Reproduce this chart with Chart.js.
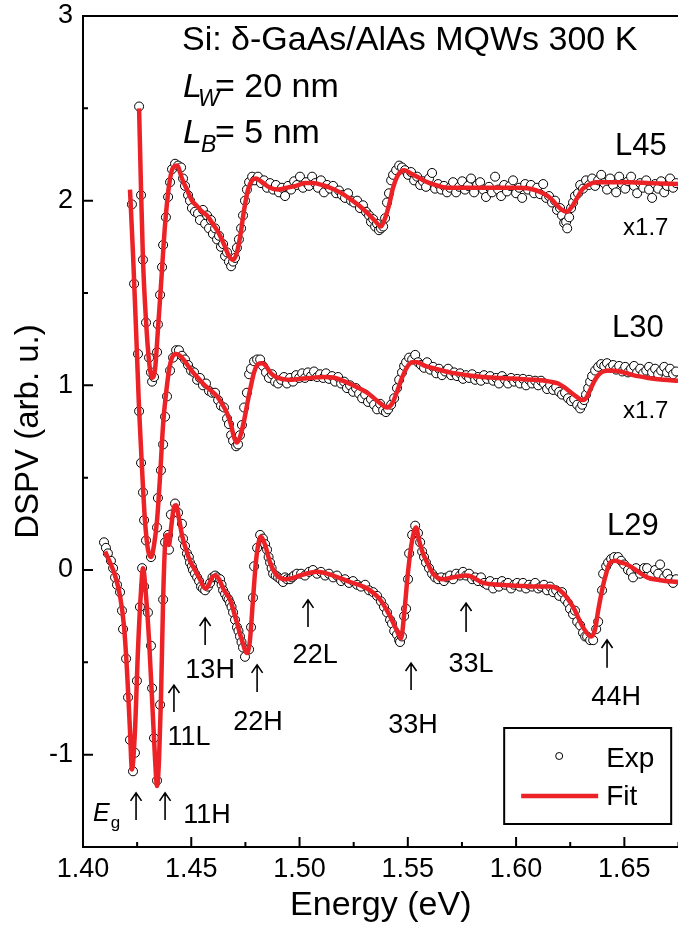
<!DOCTYPE html>
<html>
<head>
<meta charset="utf-8">
<script src="https://cdn.jsdelivr.net/npm/chart.js@4.4.1/dist/chart.umd.min.js"></script>
<style>
html, body { margin: 0; padding: 0; background: #fff; overflow: hidden; width: 678px; height: 933px; }
</style>
</head>
<body>
<!-- a few px wider than the window: the plot runs off the right edge like the original figure -->
<canvas id="myChart" width="684" height="933"></canvas>
<script>
// axis ticks
const xTicks = [1.40, 1.45, 1.50, 1.55, 1.60, 1.65];
const xMinor = [1.425, 1.475, 1.525, 1.575, 1.625, 1.675];
const yTicks = [-1, 0, 1, 2, 3];
const yMinor = [-0.5, 0.5, 1.5, 2.5];

// L29 (bottom), [energy eV, DSPV]
const l29Fit = [[1.4102,0.10],[1.4125,0.04],[1.4148,-0.03],[1.4171,-0.14],[1.4189,-0.30],[1.4203,-0.54],[1.4217,-0.87],[1.4226,-1.08],[1.4240,-0.87],[1.4254,-0.43],[1.4268,-0.11],[1.4277,0.01],[1.4291,-0.14],[1.4305,-0.38],[1.4319,-0.70],[1.4333,-1.03],[1.4342,-1.17],[1.4351,-1.03],[1.4360,-0.70],[1.4370,-0.16],[1.4379,0.135],[1.4388,0.19],[1.4397,0.135],[1.4406,0.22],[1.4420,0.34],[1.4430,0.35],[1.4443,0.28],[1.4457,0.19],[1.4476,0.11],[1.4494,0.05],[1.4517,0.0],[1.4540,-0.05],[1.4564,-0.10],[1.4577,-0.09],[1.4596,-0.04],[1.4610,-0.03],[1.4628,-0.05],[1.4651,-0.11],[1.4679,-0.16],[1.4707,-0.27],[1.4734,-0.38],[1.4757,-0.45],[1.4771,-0.38],[1.4785,-0.16],[1.4799,0.05],[1.4813,0.16],[1.4822,0.18],[1.4841,0.135],[1.4864,0.04],[1.4896,-0.03],[1.4933,-0.05],[1.4965,-0.045],[1.5002,-0.03],[1.5081,-0.01],[1.5155,-0.03],[1.5233,-0.065],[1.5312,-0.10],[1.5372,-0.16],[1.5418,-0.25],[1.5446,-0.32],[1.5469,-0.37],[1.5483,-0.24],[1.5501,-0.01],[1.5520,0.16],[1.5538,0.23],[1.5552,0.16],[1.5570,0.09],[1.5594,0.03],[1.5617,-0.02],[1.5663,-0.05],[1.5709,-0.04],[1.5774,-0.03],[1.5848,-0.07],[1.5926,-0.08],[1.6005,-0.085],[1.6088,-0.09],[1.6157,-0.09],[1.6217,-0.125],[1.6263,-0.20],[1.6309,-0.31],[1.6346,-0.36],[1.6365,-0.32],[1.6379,-0.22],[1.6397,-0.11],[1.6411,-0.04],[1.6434,0.04],[1.6457,0.05],[1.6485,0.04],[1.6513,0.03],[1.6559,-0.005],[1.6605,-0.04],[1.6665,-0.055],[1.6748,-0.065]];
const l29Exp = [[1.4097,0.15],[1.4106,0.12],[1.4115,0.09],[1.4129,0.05],[1.4139,0.01],[1.4148,-0.04],[1.4157,-0.08],[1.4171,-0.12],[1.4180,-0.22],[1.4185,-0.32],[1.4199,-0.48],[1.4208,-0.69],[1.4217,-0.92],[1.4231,-1.09],[1.4240,-0.99],[1.4249,-0.60],[1.4263,-0.20],[1.4273,0.01],[1.4282,-0.09],[1.4300,-0.23],[1.4314,-0.41],[1.4319,-0.64],[1.4328,-0.91],[1.4342,-1.14],[1.4356,-0.73],[1.4370,-0.16],[1.4379,0.15],[1.4393,0.19],[1.4397,0.11],[1.4406,0.30],[1.4425,0.36],[1.4439,0.31],[1.4457,0.25],[1.4462,0.17],[1.4471,0.13],[1.4480,0.09],[1.4489,0.07],[1.4494,0.04],[1.4503,0.02],[1.4508,0.0],[1.4517,-0.02],[1.4527,-0.04],[1.4536,-0.06],[1.4545,-0.09],[1.4554,-0.10],[1.4564,-0.11],[1.4577,-0.09],[1.4587,-0.07],[1.4598,-0.04],[1.4610,-0.03],[1.4620,-0.04],[1.4633,-0.05],[1.4640,-0.08],[1.4647,-0.11],[1.4656,-0.13],[1.4665,-0.15],[1.4672,-0.16],[1.4679,-0.18],[1.4686,-0.20],[1.4693,-0.23],[1.4702,-0.27],[1.4711,-0.31],[1.4718,-0.33],[1.4725,-0.36],[1.4732,-0.39],[1.4739,-0.42],[1.4748,-0.47],[1.4767,-0.43],[1.4776,-0.31],[1.4785,-0.15],[1.4790,0.02],[1.4804,0.12],[1.4818,0.19],[1.4831,0.17],[1.4841,0.14],[1.4850,0.11],[1.4857,0.07],[1.4864,0.04],[1.4871,0.01],[1.4878,-0.02],[1.4890,-0.03],[1.4901,-0.04],[1.4912,-0.05],[1.4924,-0.065],[1.4933,-0.04],[1.4942,-0.05],[1.4956,-0.05],[1.4965,-0.04],[1.4975,-0.03],[1.4988,-0.02],[1.5007,-0.02],[1.5025,-0.03],[1.5044,-0.01],[1.5062,0.0],[1.5081,-0.02],[1.5099,-0.01],[1.5118,-0.03],[1.5136,-0.02],[1.5155,-0.04],[1.5173,-0.03],[1.5192,-0.06],[1.5210,-0.05],[1.5229,-0.07],[1.5247,-0.06],[1.5266,-0.08],[1.5284,-0.09],[1.5303,-0.08],[1.5321,-0.11],[1.5340,-0.12],[1.5358,-0.14],[1.5376,-0.17],[1.5390,-0.20],[1.5404,-0.23],[1.5418,-0.27],[1.5427,-0.29],[1.5437,-0.33],[1.5450,-0.35],[1.5460,-0.38],[1.5464,-0.39],[1.5473,-0.36],[1.5483,-0.25],[1.5492,-0.21],[1.5501,-0.05],[1.5506,0.09],[1.5520,0.19],[1.5534,0.24],[1.5547,0.20],[1.5557,0.15],[1.5566,0.10],[1.5575,0.07],[1.5584,0.04],[1.5598,0.01],[1.5612,-0.02],[1.5626,-0.04],[1.5640,-0.05],[1.5654,-0.04],[1.5667,-0.06],[1.5681,-0.04],[1.5695,-0.03],[1.5709,-0.05],[1.5723,-0.02],[1.5741,-0.03],[1.5755,-0.01],[1.5769,-0.03],[1.5783,-0.02],[1.5797,-0.05],[1.5811,-0.04],[1.5824,-0.06],[1.5838,-0.04],[1.5852,-0.07],[1.5866,-0.08],[1.5880,-0.06],[1.5894,-0.10],[1.5908,-0.07],[1.5921,-0.09],[1.5935,-0.06],[1.5949,-0.08],[1.5963,-0.07],[1.5977,-0.10],[1.5991,-0.08],[1.6005,-0.07],[1.6018,-0.09],[1.6032,-0.07],[1.6046,-0.10],[1.6060,-0.08],[1.6074,-0.09],[1.6088,-0.07],[1.6102,-0.10],[1.6115,-0.09],[1.6129,-0.08],[1.6143,-0.11],[1.6157,-0.09],[1.6171,-0.12],[1.6185,-0.11],[1.6199,-0.14],[1.6212,-0.12],[1.6226,-0.16],[1.6240,-0.18],[1.6249,-0.21],[1.6263,-0.24],[1.6272,-0.22],[1.6282,-0.28],[1.6296,-0.30],[1.6309,-0.34],[1.6319,-0.36],[1.6328,-0.36],[1.6342,-0.38],[1.6356,-0.38],[1.6370,-0.32],[1.6379,-0.28],[1.6397,-0.11],[1.6402,-0.02],[1.6416,0.02],[1.6425,0.04],[1.6439,0.06],[1.6453,0.07],[1.6471,0.07],[1.6485,0.05],[1.6499,0.03],[1.6517,0.0],[1.6531,-0.01],[1.6540,-0.04],[1.6554,0.01],[1.6573,-0.02],[1.6591,0.01],[1.6605,0.01],[1.6624,-0.03],[1.6642,0.0],[1.6656,-0.02],[1.6665,0.03],[1.6684,-0.04],[1.6698,-0.02],[1.6711,-0.05],[1.6725,-0.07],[1.6739,-0.05]];

// L30 (middle, x1.7)
const l30Fit = [[1.4217,2.06],[1.4231,1.71],[1.4245,1.30],[1.4259,0.87],[1.4273,0.54],[1.4286,0.27],[1.4300,0.11],[1.4314,0.07],[1.4328,0.135],[1.4342,0.27],[1.4356,0.51],[1.4370,0.79],[1.4383,0.95],[1.4397,1.08],[1.4411,1.15],[1.4430,1.17],[1.4448,1.16],[1.4471,1.13],[1.4494,1.09],[1.4527,1.045],[1.4554,1.01],[1.4587,0.975],[1.4619,0.94],[1.4642,0.90],[1.4665,0.85],[1.4684,0.785],[1.4697,0.72],[1.4711,0.69],[1.4725,0.72],[1.4744,0.81],[1.4762,0.92],[1.4776,1.00],[1.4790,1.07],[1.4808,1.115],[1.4827,1.12],[1.4845,1.105],[1.4864,1.07],[1.4891,1.045],[1.4919,1.035],[1.4956,1.03],[1.5002,1.035],[1.5048,1.04],[1.5109,1.045],[1.5164,1.04],[1.5210,1.02],[1.5266,0.99],[1.5312,0.96],[1.5349,0.925],[1.5381,0.895],[1.5404,0.88],[1.5427,0.90],[1.5450,0.965],[1.5473,1.04],[1.5497,1.10],[1.5520,1.125],[1.5543,1.125],[1.5580,1.105],[1.5626,1.09],[1.5695,1.07],[1.5774,1.055],[1.5848,1.045],[1.5926,1.04],[1.6005,1.035],[1.6088,1.03],[1.6157,1.02],[1.6194,1.01],[1.6222,0.99],[1.6249,0.965],[1.6277,0.94],[1.6305,0.92],[1.6323,0.93],[1.6342,0.975],[1.6360,1.02],[1.6379,1.055],[1.6402,1.075],[1.6434,1.08],[1.6480,1.075],[1.6540,1.055],[1.6610,1.04],[1.6679,1.03],[1.6748,1.025]];
const l30Exp = [[1.4226,1.98],[1.4236,1.55],[1.4254,1.17],[1.4259,0.86],[1.4268,0.58],[1.4277,0.42],[1.4282,0.27],[1.4291,0.16],[1.4314,0.07],[1.4342,0.23],[1.4346,0.39],[1.4360,0.54],[1.4370,0.68],[1.4379,0.83],[1.4388,0.94],[1.4402,1.08],[1.4416,1.15],[1.4430,1.19],[1.4443,1.19],[1.4457,1.16],[1.4471,1.14],[1.4485,1.11],[1.4499,1.08],[1.4513,1.07],[1.4527,1.03],[1.4540,1.04],[1.4554,1.00],[1.4568,1.01],[1.4582,0.97],[1.4596,0.96],[1.4610,0.96],[1.4624,0.92],[1.4637,0.89],[1.4651,0.88],[1.4665,0.82],[1.4674,0.79],[1.4684,0.73],[1.4693,0.70],[1.4707,0.67],[1.4716,0.68],[1.4725,0.73],[1.4734,0.785],[1.4744,0.88],[1.4757,0.96],[1.4767,1.06],[1.4776,1.09],[1.4790,1.13],[1.4804,1.14],[1.4818,1.14],[1.4831,1.105],[1.4845,1.07],[1.4859,1.04],[1.4873,1.06],[1.4887,1.02],[1.4901,1.01],[1.4915,1.03],[1.4928,1.045],[1.4942,1.01],[1.4956,1.04],[1.4970,1.02],[1.4984,1.055],[1.4998,1.04],[1.5012,1.065],[1.5025,1.04],[1.5039,1.07],[1.5053,1.05],[1.5067,1.075],[1.5081,1.045],[1.5095,1.06],[1.5109,1.04],[1.5122,1.065],[1.5136,1.035],[1.5150,1.05],[1.5164,1.02],[1.5178,1.045],[1.5192,1.01],[1.5206,1.02],[1.5219,0.985],[1.5233,1.00],[1.5247,0.965],[1.5261,0.985],[1.5275,0.955],[1.5289,0.93],[1.5303,0.95],[1.5316,0.91],[1.5330,0.925],[1.5344,0.895],[1.5358,0.87],[1.5372,0.90],[1.5386,0.865],[1.5399,0.855],[1.5409,0.87],[1.5423,0.895],[1.5437,0.93],[1.5450,0.985],[1.5460,1.03],[1.5473,1.07],[1.5483,1.105],[1.5492,1.125],[1.5506,1.15],[1.5520,1.14],[1.5534,1.165],[1.5547,1.125],[1.5561,1.11],[1.5575,1.095],[1.5589,1.125],[1.5603,1.085],[1.5617,1.10],[1.5631,1.065],[1.5644,1.09],[1.5658,1.055],[1.5672,1.075],[1.5686,1.09],[1.5700,1.055],[1.5714,1.07],[1.5727,1.05],[1.5741,1.065],[1.5755,1.035],[1.5769,1.055],[1.5783,1.04],[1.5797,1.06],[1.5811,1.03],[1.5824,1.045],[1.5838,1.025],[1.5852,1.055],[1.5866,1.035],[1.5880,1.05],[1.5894,1.025],[1.5908,1.04],[1.5921,1.01],[1.5935,1.05],[1.5949,1.03],[1.5963,1.01],[1.5977,1.04],[1.5991,1.02],[1.6005,1.035],[1.6018,1.01],[1.6032,1.035],[1.6046,1.00],[1.6060,1.03],[1.6074,1.01],[1.6088,1.025],[1.6102,1.00],[1.6115,1.025],[1.6129,1.01],[1.6143,0.98],[1.6157,1.00],[1.6171,0.975],[1.6185,0.99],[1.6199,0.965],[1.6212,0.95],[1.6226,0.96],[1.6240,0.93],[1.6254,0.915],[1.6268,0.925],[1.6282,0.895],[1.6296,0.875],[1.6305,0.895],[1.6314,0.92],[1.6323,0.95],[1.6333,0.985],[1.6342,1.02],[1.6351,1.05],[1.6365,1.08],[1.6379,1.10],[1.6393,1.115],[1.6407,1.105],[1.6420,1.12],[1.6434,1.095],[1.6448,1.11],[1.6462,1.085],[1.6476,1.105],[1.6490,1.075],[1.6504,1.10],[1.6517,1.07],[1.6531,1.09],[1.6545,1.105],[1.6559,1.07],[1.6573,1.09],[1.6587,1.065],[1.6601,1.08],[1.6614,1.10],[1.6628,1.07],[1.6642,1.09],[1.6656,1.06],[1.6670,1.08],[1.6684,1.10],[1.6697,1.07],[1.6711,1.09],[1.6725,1.06],[1.6739,1.075]];

// L45 (top, x1.7)
const l45Fit = [[1.4259,2.50],[1.4268,2.06],[1.4277,1.68],[1.4291,1.35],[1.4305,1.13],[1.4319,1.04],[1.4333,1.09],[1.4346,1.30],[1.4360,1.54],[1.4379,1.87],[1.4397,2.08],[1.4416,2.18],[1.4434,2.19],[1.4457,2.12],[1.4480,2.06],[1.4503,2.00],[1.4527,1.97],[1.4550,1.94],[1.4573,1.92],[1.4596,1.88],[1.4619,1.84],[1.4637,1.80],[1.4656,1.75],[1.4674,1.70],[1.4693,1.68],[1.4707,1.705],[1.4725,1.80],[1.4744,1.95],[1.4762,2.06],[1.4781,2.11],[1.4799,2.12],[1.4827,2.10],[1.4864,2.07],[1.4901,2.06],[1.4942,2.07],[1.4984,2.08],[1.5025,2.095],[1.5062,2.095],[1.5104,2.085],[1.5141,2.07],[1.5187,2.045],[1.5233,2.01],[1.5279,1.97],[1.5316,1.93],[1.5349,1.89],[1.5376,1.86],[1.5395,1.905],[1.5413,1.975],[1.5432,2.07],[1.5455,2.14],[1.5483,2.165],[1.5510,2.15],[1.5543,2.13],[1.5580,2.105],[1.5626,2.085],[1.5681,2.07],[1.5764,2.07],[1.5880,2.07],[1.5995,2.07],[1.6065,2.065],[1.6125,2.04],[1.6162,2.01],[1.6189,1.975],[1.6212,1.95],[1.6236,1.94],[1.6259,1.97],[1.6282,2.015],[1.6305,2.06],[1.6333,2.085],[1.6370,2.10],[1.6434,2.10],[1.6527,2.10],[1.6619,2.095],[1.6748,2.09]];
const l45Exp = [[1.4259,2.51],[1.4268,2.03],[1.4277,1.68],[1.4291,1.34],[1.4305,1.15],[1.4314,1.07],[1.4319,1.02],[1.4328,1.045],[1.4342,1.18],[1.4346,1.33],[1.4356,1.49],[1.4365,1.64],[1.4370,1.76],[1.4383,1.91],[1.4393,2.02],[1.4402,2.10],[1.4411,2.17],[1.4425,2.20],[1.4439,2.19],[1.4453,2.18],[1.4462,2.12],[1.4471,2.08],[1.4485,2.03],[1.4494,2.00],[1.4503,1.96],[1.4517,1.94],[1.4531,1.93],[1.4540,1.895],[1.4554,1.95],[1.4564,1.875],[1.4573,1.92],[1.4582,1.85],[1.4591,1.895],[1.4600,1.82],[1.4610,1.85],[1.4619,1.79],[1.4628,1.81],[1.4637,1.75],[1.4647,1.765],[1.4656,1.70],[1.4665,1.72],[1.4674,1.67],[1.4684,1.645],[1.4693,1.67],[1.4702,1.69],[1.4711,1.745],[1.4720,1.79],[1.4730,1.85],[1.4739,1.92],[1.4748,2.00],[1.4757,2.06],[1.4767,2.10],[1.4781,2.13],[1.4794,2.11],[1.4808,2.13],[1.4822,2.095],[1.4836,2.11],[1.4850,2.07],[1.4864,2.095],[1.4878,2.06],[1.4891,2.085],[1.4905,2.045],[1.4919,2.07],[1.4933,2.025],[1.4947,2.08],[1.4961,2.06],[1.4975,2.105],[1.4988,2.085],[1.5002,2.13],[1.5016,2.07],[1.5030,2.10],[1.5044,2.08],[1.5058,2.13],[1.5072,2.095],[1.5085,2.07],[1.5099,2.11],[1.5113,2.045],[1.5127,2.085],[1.5141,2.065],[1.5155,2.08],[1.5169,2.04],[1.5182,2.055],[1.5196,2.03],[1.5210,2.015],[1.5224,2.04],[1.5238,2.00],[1.5252,1.99],[1.5266,2.00],[1.5279,1.96],[1.5293,1.975],[1.5307,1.94],[1.5321,1.92],[1.5330,1.885],[1.5340,1.90],[1.5349,1.86],[1.5358,1.875],[1.5367,1.84],[1.5376,1.85],[1.5386,1.86],[1.5395,1.905],[1.5404,1.99],[1.5413,2.04],[1.5423,2.11],[1.5432,2.14],[1.5446,2.165],[1.5460,2.19],[1.5473,2.18],[1.5487,2.165],[1.5501,2.14],[1.5515,2.155],[1.5529,2.11],[1.5543,2.13],[1.5557,2.085],[1.5570,2.105],[1.5584,2.075],[1.5598,2.12],[1.5612,2.15],[1.5626,2.065],[1.5640,2.09],[1.5654,2.06],[1.5667,2.08],[1.5681,2.045],[1.5695,2.07],[1.5709,2.10],[1.5723,2.045],[1.5737,2.075],[1.5751,2.105],[1.5764,2.06],[1.5778,2.08],[1.5792,2.12],[1.5806,2.045],[1.5820,2.085],[1.5834,2.10],[1.5848,2.06],[1.5861,2.02],[1.5875,2.075],[1.5889,2.045],[1.5903,2.13],[1.5917,2.06],[1.5931,2.025],[1.5945,2.085],[1.5958,2.05],[1.5972,2.08],[1.5986,2.11],[1.6000,2.04],[1.6014,2.07],[1.6028,2.015],[1.6042,2.09],[1.6055,2.06],[1.6069,2.085],[1.6083,2.04],[1.6097,2.07],[1.6111,2.035],[1.6125,2.09],[1.6139,2.015],[1.6152,2.025],[1.6166,1.99],[1.6180,2.00],[1.6189,1.95],[1.6203,1.96],[1.6212,1.92],[1.6222,1.88],[1.6231,1.885],[1.6236,1.85],[1.6245,1.91],[1.6254,1.96],[1.6263,1.99],[1.6272,2.025],[1.6286,2.04],[1.6296,2.085],[1.6309,2.065],[1.6323,2.11],[1.6337,2.085],[1.6351,2.12],[1.6365,2.08],[1.6379,2.11],[1.6393,2.14],[1.6407,2.095],[1.6420,2.06],[1.6434,2.12],[1.6448,2.085],[1.6462,2.045],[1.6476,2.13],[1.6490,2.09],[1.6504,2.065],[1.6517,2.105],[1.6531,2.13],[1.6545,2.08],[1.6559,2.04],[1.6573,2.095],[1.6587,2.07],[1.6601,2.11],[1.6614,2.06],[1.6628,2.015],[1.6642,2.09],[1.6656,2.065],[1.6670,2.105],[1.6684,2.045],[1.6697,2.08],[1.6711,2.12],[1.6725,2.07],[1.6739,2.095]];

// transition markers: arrow energy, tip and tail heights
const arrowE = [1.4245, 1.4379, 1.4420, 1.4564, 1.4804, 1.5039, 1.5515, 1.5769, 1.6420];
const arrowTip = [-1.207, -1.207, -0.623, -0.260, -0.514, -0.162, -0.504, -0.179, -0.379];
const arrowTail = [-1.354, -1.354, -0.769, -0.406, -0.660, -0.309, -0.650, -0.336, -0.530];
const peakNames = ['11H', '11L', '13H', '22H', '22L', '33H', '33L', '44H'];
const peakNameE = [1.4573, 1.4490, 1.4587, 1.4808, 1.5072, 1.5524, 1.5792, 1.6462];
const peakNameV = [-1.370, -0.947, -0.585, -0.866, -0.504, -0.883, -0.552, -0.731];

// sample names and scale factors
const curveNames = ['L45', 'L30', 'L29'];
const curveNameV = [2.247, 1.262, 0.190];
const curveNameE = [1.6457, 1.6443, 1.6420];
const scaleNotes = ['x1.7', 'x1.7'];
const scaleNoteV = [1.814, 0.823];

const FONT = '"Liberation Sans", Arial, Helvetica, sans-serif';
const RED = '#ec2227';

const expStyle = {
    showLine: false,
    pointRadius: 4.5,
    pointBorderWidth: 1,
    pointBorderColor: '#000',
    pointBackgroundColor: '#fff',
    order: 2
};
const fitStyle = {
    showLine: true,
    pointRadius: 0,
    borderColor: RED,
    borderWidth: 4.5,
    cubicInterpolationMode: 'monotone',
    order: 1
};
const toXY = arr => arr.map(p => ({ x: p[0], y: p[1] }));

const frame = {
    id: 'frame',
    afterDraw(chart) {
        const { ctx, chartArea: a, scales: { x, y } } = chart;
        ctx.save();
        ctx.strokeStyle = '#000';
        ctx.lineWidth = 2;
        ctx.beginPath();
        ctx.moveTo(a.right, a.top); ctx.lineTo(a.left, a.top); ctx.lineTo(a.left, a.bottom); ctx.lineTo(a.right, a.bottom);
        xTicks.forEach(v => { const p = x.getPixelForValue(v); ctx.moveTo(p, a.bottom); ctx.lineTo(p, a.bottom - 10); });
        xMinor.forEach(v => { const p = x.getPixelForValue(v); ctx.moveTo(p, a.bottom); ctx.lineTo(p, a.bottom - 5); });
        yTicks.forEach(v => { const p = y.getPixelForValue(v); ctx.moveTo(a.left, p); ctx.lineTo(a.left + 10, p); });
        yMinor.forEach(v => { const p = y.getPixelForValue(v); ctx.moveTo(a.left, p); ctx.lineTo(a.left + 5, p); });
        ctx.stroke();

        // arrows
        ctx.lineWidth = 1.6;
        ctx.beginPath();
        arrowE.forEach((e, i) => {
            const px = x.getPixelForValue(e);
            const tip = y.getPixelForValue(arrowTip[i]);
            const tail = y.getPixelForValue(arrowTail[i]);
            ctx.moveTo(px, tail); ctx.lineTo(px, tip);
            ctx.moveTo(px - 5.5, tip + 8); ctx.lineTo(px, tip); ctx.lineTo(px + 5.5, tip + 8);
        });
        ctx.stroke();

        ctx.fillStyle = '#000';
        ctx.textBaseline = 'alphabetic';
        ctx.textAlign = 'center';
        ctx.font = '27px ' + FONT;
        peakNames.forEach((s, i) => ctx.fillText(s, x.getPixelForValue(peakNameE[i]), y.getPixelForValue(peakNameV[i])));

        // E_g
        ctx.textAlign = 'left';
        let ex = x.getPixelForValue(1.4046), ey = y.getPixelForValue(-1.359);
        ctx.font = 'italic 25px ' + FONT;
        ctx.fillText('E', ex, ey);
        const ew = ctx.measureText('E').width;
        ctx.font = '17px ' + FONT;
        ctx.fillText('g', ex + ew + 1, ey + 7);

        ctx.font = '31px ' + FONT;
        curveNames.forEach((s, i) => ctx.fillText(s, x.getPixelForValue(curveNameE[i]), y.getPixelForValue(curveNameV[i])));
        ctx.font = '24px ' + FONT;
        scaleNotes.forEach((s, i) => ctx.fillText(s, x.getPixelForValue(1.6494), y.getPixelForValue(scaleNoteV[i])));

        // header
        const hx = x.getPixelForValue(1.4457);
        ctx.font = '34px ' + FONT;
        ctx.fillText('Si: \u03b4-GaAs/AlAs MQWs 300 K', hx, y.getPixelForValue(2.815));
        [['W', 2.561, -4], ['B', 2.312, -1]].forEach(([sub, v, dx]) => {
            const by = y.getPixelForValue(v);
            const lx = x.getPixelForValue(1.4462);
            ctx.font = 'italic 34px ' + FONT;
            ctx.fillText('L', lx, by);
            const lw = ctx.measureText('L').width;
            ctx.font = 'italic 23px ' + FONT;
            ctx.fillText(sub, lx + lw + dx, by + 9);
            ctx.font = '34px ' + FONT;
            ctx.fillText(sub === 'W' ? '= 20 nm' : '= 5 nm', lx + 32, by);
        });

        // legend box (anchored to the visible right edge)
        const bx = x.getPixelForValue(1.5945), by = a.bottom - 119;
        ctx.lineWidth = 2;
        ctx.strokeRect(bx, by, 167, 96);
        const ds = chart.data.datasets;
        const exp = ds.find(d => d.label === 'Exp');
        const fit = ds.find(d => d.label === 'Fit');
        ctx.beginPath();
        ctx.lineWidth = 1;
        ctx.fillStyle = exp.pointBackgroundColor;
        ctx.arc(bx + 55, by + 28, 3.5, 0, Math.PI * 2);
        ctx.fill(); ctx.stroke();
        ctx.beginPath();
        ctx.strokeStyle = fit.borderColor;
        ctx.lineWidth = fit.borderWidth;
        ctx.moveTo(bx + 17, by + 68); ctx.lineTo(bx + 94, by + 68);
        ctx.stroke();
        ctx.fillStyle = '#000';
        ctx.font = '28px ' + FONT;
        ctx.fillText(exp.label, bx + 102, by + 39);
        ctx.fillText(fit.label, bx + 102, by + 77);
        ctx.restore();
    }
};

new Chart(document.getElementById('myChart'), {
    type: 'scatter',
    data: {
        datasets: [
            { label: 'Exp', data: toXY(l45Exp), ...expStyle },
            { label: 'Exp', data: toXY(l30Exp), ...expStyle },
            { label: 'Exp', data: toXY(l29Exp), ...expStyle },
            { label: 'Fit', data: toXY(l45Fit), ...fitStyle },
            { label: 'Fit', data: toXY(l30Fit), ...fitStyle },
            { label: 'Fit', data: toXY(l29Fit), ...fitStyle }
        ]
    },
    options: {
        responsive: false,
        animation: false,
        layout: { padding: { top: 16, right: 0, left: 0, bottom: 0 } },
        plugins: { legend: { display: false }, tooltip: { enabled: false } },
        scales: {
            x: {
                type: 'linear', min: 1.40, max: 1.675,
                grid: { display: false, drawTicks: false },
                border: { display: false },
                ticks: { color: '#000', font: { family: FONT, size: 27 }, padding: 6, maxRotation: 0, autoSkip: false, callback: v => v.toFixed(2) },
                title: { display: true, text: 'Energy (eV)', color: '#000', font: { family: FONT, size: 34 }, padding: { top: 0, bottom: 7 } },
                afterBuildTicks: s => { s.ticks = xTicks.map(v => ({ value: v })); },
                afterFit: s => { s.height = 86; s.paddingLeft = 0; s.paddingRight = 0; }
            },
            y: {
                type: 'linear', min: -1.5, max: 3,
                grid: { display: false, drawTicks: false },
                border: { display: false },
                ticks: { color: '#000', font: { family: FONT, size: 27 }, padding: 10, callback: v => String(v) },
                title: { display: true, text: 'DSPV (arb. u.)', color: '#000', font: { family: FONT, size: 33 }, padding: { top: 9, bottom: 0 } },
                afterBuildTicks: s => { s.ticks = yTicks.map(v => ({ value: v })); },
                afterFit: s => { s.width = 83; s.paddingTop = 0; s.paddingBottom = 0; }
            }
        }
    },
    plugins: [frame]
});
</script>
</body>
</html>
